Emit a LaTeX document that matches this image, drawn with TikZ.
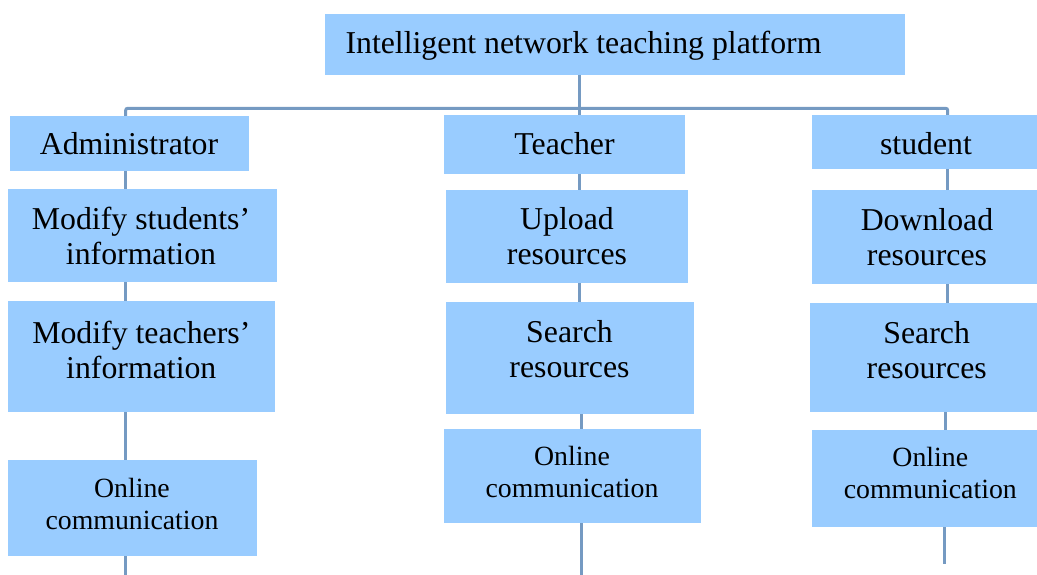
\documentclass[tikz,border=0pt]{standalone}
\usepackage{fontspec}
\setmainfont{Liberation Serif}
\definecolor{boxblue}{RGB}{153,204,255}
\definecolor{linecol}{RGB}{117,154,194}
\tikzset{
  boxst/.style={fill=boxblue, draw=none, inner sep=0pt, outer sep=0pt},
  bigtxt/.style={inner sep=0pt, align=center, font=\fontsize{31.8}{35}\selectfont},
  smalltxt/.style={inner sep=0pt, align=center, font=\fontsize{27.8}{32}\selectfont},
  conn/.style={draw=linecol, line width=3pt}
}
\begin{document}
\begin{tikzpicture}[x=1pt,y=-1pt]
\useasboundingbox (0,0) rectangle (1037,575);
% column coordinates
\coordinate (cA) at (125.7,0);
\coordinate (cT) at (579.3,0);
\coordinate (cT2) at (581,0);
\coordinate (cS) at (947.7,0);
\coordinate (cS2) at (945.7,0);
\coordinate (hb) at (500,108.3);
\coordinate (endA) at (125.7,575);
\coordinate (endT) at (581.7,575);
\coordinate (endS) at (944.7,564);

% boxes
\node[boxst, minimum width=580, minimum height=61] (top) at (615,44.5) {};
\node[boxst, minimum width=239, minimum height=55] (adm) at (129.5,143.5) {};
\node[boxst, minimum width=269, minimum height=93] (ms) at (142.5,235.5) {};
\node[boxst, minimum width=267, minimum height=111] (mt) at (141.5,356.5) {};
\node[boxst, minimum width=249, minimum height=96] (ao) at (132.5,508) {};
\node[boxst, minimum width=241, minimum height=59] (tea) at (564.5,144.5) {};
\node[boxst, minimum width=242, minimum height=93] (up) at (567,236.5) {};
\node[boxst, minimum width=248, minimum height=112] (ts) at (570,358) {};
\node[boxst, minimum width=257, minimum height=94] (to) at (572.5,476) {};
\node[boxst, minimum width=225, minimum height=54] (stu) at (924.5,142) {};
\node[boxst, minimum width=225, minimum height=94] (dl) at (924.5,237) {};
\node[boxst, minimum width=227, minimum height=109] (ss) at (923.5,357.5) {};
\node[boxst, minimum width=225, minimum height=97] (so) at (924.5,478.5) {};

% texts
\node[bigtxt, anchor=base] (topT) at (583.5,54) {Intelligent network teaching platform};
\node[bigtxt, anchor=base] (admT) at (129,154.3) {Administrator};
\node[bigtxt, anchor=base] (teaT) at (564.5,154.3) {Teacher};
\node[bigtxt, anchor=base] (stuT) at (926,154.3) {student};
\node[bigtxt] (msT) at (141,236) {Modify students’\\information};
\node[bigtxt] (mtT) at (141.3,350) {Modify teachers’\\information};
\node[smalltxt] (aoT) at (132,503.5) {Online\\communication};
\node[bigtxt] (upT) at (567,236.6) {Upload\\resources};
\node[bigtxt] (tsT) at (569.5,349) {Search\\resources};
\node[smalltxt] (toT) at (572,471.7) {Online\\communication};
\node[bigtxt] (dlT) at (927,237) {Download\\resources};
\node[bigtxt] (ssT) at (926.7,350) {Search\\resources};
\node[smalltxt] (soT) at (930.3,473) {Online\\communication};

% connectors
\draw[conn] (top.south -| cT) -- (tea.north -| cT);
\draw[conn, rounded corners=2pt] (adm.north -| cA) |- (hb) -| (stu.north -| cS);
\draw[conn] (adm.south -| cA) -- (ms.north -| cA);
\draw[conn] (ms.south -| cA) -- (mt.north -| cA);
\draw[conn] (mt.south -| cA) -- (ao.north -| cA);
\draw[conn] (ao.south -| cA) -- (endA);
\draw[conn] (tea.south -| cT) -- (up.north -| cT);
\draw[conn] (up.south -| cT) -- (ts.north -| cT);
\draw[conn] (ts.south -| cT2) -- (to.north -| cT2);
\draw[conn] (to.south -| endT) -- (endT);
\draw[conn] (stu.south -| cS) -- (dl.north -| cS);
\draw[conn] (dl.south -| cS) -- (ss.north -| cS);
\draw[conn] (ss.south -| cS2) -- (so.north -| cS2);
\draw[conn] (so.south -| endS) -- (endS);
\end{tikzpicture}
\end{document}
